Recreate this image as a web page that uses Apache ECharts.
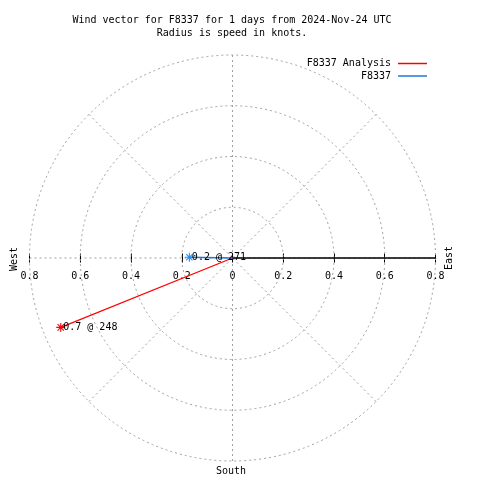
<!DOCTYPE html>
<html>
<head>
<meta charset="utf-8">
<script src="https://cdn.jsdelivr.net/npm/echarts@6/dist/echarts.min.js"></script>
<style>html,body{margin:0;padding:0;background:#fff}#c{width:480px;height:480px}</style>
</head>
<body>
<div id="c"></div>
<script>
// ---- data ----
const seriesNames = ['F8337 Analysis', 'F8337'];
const speeds = [0.73, 0.17];          // knots
const directions = [248, 271];        // compass degrees
const seriesColors = ['#ff0000', '#1f78d8'];
const starColors = ['#ff0000', '#2b8ef5'];
const tickValues = [-0.8, -0.6, -0.4, -0.2, 0, 0.2, 0.4, 0.6, 0.8];
const titleLines = ['Wind vector for F8337 for 1 days from 2024-Nov-24 UTC', 'Radius is speed in knots.'];
const compassLabels = ['West', 'East', 'South'];

const FONT = '"DejaVu Sans Mono", "Liberation Mono", monospace';
const CX = 232.5, CY = 258, R = 203;

// asterisk symbol path
function starPath() {
  let p = '';
  const L = 5, w = 0.6;
  [0, 45, 90, 135].forEach(a => {
    const t = a * Math.PI / 180;
    const ux = Math.cos(t), uy = Math.sin(t), nx = -uy, ny = ux;
    const pts = [
      [L * ux + w * nx, L * uy + w * ny],
      [L * ux - w * nx, L * uy - w * ny],
      [-L * ux - w * nx, -L * uy - w * ny],
      [-L * ux + w * nx, -L * uy + w * ny]
    ];
    p += 'M' + pts.map(q => (q[0] + 5).toFixed(3) + ',' + (q[1] + 5).toFixed(3)).join('L') + 'Z';
  });
  return 'path://' + p;
}
const STAR = starPath();

const series = seriesNames.map((name, i) => ({
  name: name,
  type: 'line',
  coordinateSystem: 'polar',
  color: seriesColors[i],
  lineStyle: { color: seriesColors[i], width: i === 0 ? 1.2 : 1.5 },
  animation: false,
  z: 5,
  data: [
    { value: [0, directions[i] - 90], symbol: 'none' },
    {
      value: [speeds[i], directions[i] - 90],
      symbol: STAR, symbolSize: 9,
      itemStyle: { color: starColors[i] },
      label: {
        show: true, position: 'right', distance: -2,
        formatter: () => speeds[i].toFixed(1) + ' @ ' + directions[i],
        fontFamily: FONT, fontSize: 10, color: '#000'
      }
    }
  ]
}));

const dashed = { color: '#a0a0a0', width: 1, type: [2, 3] };

const option = {
  backgroundColor: '#fff',
  animation: false,
  polar: { center: [CX, CY], radius: R },
  angleAxis: {
    type: 'value', min: 0, max: 360, interval: 45, startAngle: 0, clockwise: true,
    axisLine: { show: false }, axisTick: { show: false }, axisLabel: { show: false },
    splitLine: { show: true, lineStyle: dashed }
  },
  radiusAxis: {
    type: 'value', min: 0, max: 0.8, interval: 0.2,
    axisLine: { show: true, lineStyle: { color: '#000', width: 1.5 } },
    axisTick: { show: false }, axisLabel: { show: false },
    splitLine: { show: true, lineStyle: dashed }, z: 3
  },
  grid: { left: CX - R, width: 2 * R, top: CY, height: 0, outerBoundsMode: 'none', containLabel: false },
  xAxis: [
    {
      type: 'value', min: -0.8, max: 0.8, interval: 0.2, position: 'bottom',
      axisLine: { show: false, onZero: false },
      axisTick: { show: true, length: 4.5, lineStyle: { color: '#000', width: 1 } },
      axisLabel: {
        show: true, margin: 13.5, fontFamily: FONT, fontSize: 10, color: '#000',
        formatter: v => { const a = Math.abs(Math.round(v * 10) / 10); return a === 0 ? '0' : String(a); }
      },
      splitLine: { show: false }
    },
    {
      type: 'value', min: -0.8, max: 0.8, interval: 0.2, position: 'top',
      axisLine: { show: false, onZero: false },
      axisTick: { show: true, length: 4.5, lineStyle: { color: '#000', width: 1 } },
      axisLabel: { show: false }, splitLine: { show: false }
    }
  ],
  yAxis: { type: 'value', show: false },
  legend: [
    {
      data: [seriesNames[0]], right: 53, top: 58.5, orient: 'vertical', align: 'right',
      icon: 'rect', itemWidth: 29, itemHeight: 1.5, padding: 0, selectedMode: false,
      textStyle: { fontFamily: FONT, fontSize: 10, color: '#000', padding: [0, 2, 0, 0] }
    },
    {
      data: [seriesNames[1]], right: 53, top: 71, orient: 'vertical', align: 'right',
      icon: 'rect', itemWidth: 29, itemHeight: 1.5, padding: 0, selectedMode: false,
      textStyle: { fontFamily: FONT, fontSize: 10, color: '#000', padding: [0, 2, 0, 0] }
    }
  ],
  graphic: [
    { type: 'text', x: 232, y: 20.5, style: { text: titleLines[0], font: '10px ' + FONT, fill: '#000', align: 'center', verticalAlign: 'middle' } },
    { type: 'text', x: 232, y: 33.5, style: { text: titleLines[1], font: '10px ' + FONT, fill: '#000', align: 'center', verticalAlign: 'middle' } },
    { type: 'text', x: 14, y: 259, rotation: Math.PI / 2, style: { text: compassLabels[0], font: '10px ' + FONT, fill: '#000', align: 'center', verticalAlign: 'middle' } },
    { type: 'text', x: 449, y: 258, rotation: Math.PI / 2, style: { text: compassLabels[1], font: '10px ' + FONT, fill: '#000', align: 'center', verticalAlign: 'middle' } },
    { type: 'text', x: 231, y: 471, style: { text: compassLabels[2], font: '10px ' + FONT, fill: '#000', align: 'center', verticalAlign: 'middle' } }
  ],
  series: series
};

const chart = echarts.init(document.getElementById('c'), null, { renderer: 'canvas' });
chart.setOption(option);
</script>
</body>
</html>
